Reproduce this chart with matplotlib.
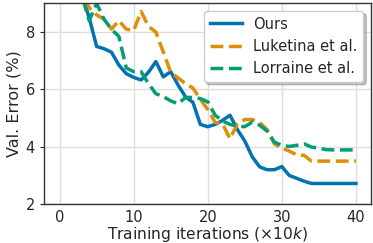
import numpy as np
import matplotlib as mpl
mpl.use('Agg')
import matplotlib.pyplot as plt

# training iterations (x10k)
iters = list(range(0, 41))

ours = [11.0, 10.5, 10.0, 9.3, 8.5, 7.5, 7.42, 7.3, 6.85, 6.55,
        6.42, 6.33, 6.6, 6.97, 6.44, 6.62, 6.15, 5.74, 5.55, 4.78,
        4.7, 4.78, 4.92, 5.1, 4.6, 4.2, 3.65, 3.3, 3.2, 3.2,
        3.31, 3.0, 2.9, 2.8, 2.72, 2.72, 2.72, 2.72, 2.72, 2.72, 2.72]

luketina = [11.5, 10.8, 10.0, 9.3, 8.85, 8.6, 8.45, 8.1, 8.4, 8.1,
            8.05, 8.72, 8.2, 8.0, 7.3, 6.6, 6.4, 6.2, 6.05, 5.65,
            5.3, 4.85, 4.8, 4.28, 4.8, 4.95, 4.95, 4.85, 4.6, 4.1,
            3.95, 3.85, 3.72, 3.7, 3.5, 3.5, 3.5, 3.5, 3.5, 3.5, 3.5]

lorraine = [11.0, 10.3, 9.6, 9.3, 8.4, 9.0, 8.45, 8.1, 7.85, 6.75,
            6.62, 6.62, 6.2, 5.85, 5.75, 5.6, 5.5, 5.72, 5.72, 5.68,
            5.57, 5.1, 4.9, 4.78, 4.72, 4.7, 4.86, 4.75, 4.55, 4.16,
            4.05, 4.01, 4.05, 4.1, 3.99, 3.95, 3.9, 3.89, 3.89, 3.89, 3.89]

plt.rcParams['font.family'] = ['DejaVu Sans']
plt.rcParams['text.color'] = '#262626'
plt.rcParams['axes.labelcolor'] = '#262626'
plt.rcParams['xtick.color'] = '#262626'
plt.rcParams['ytick.color'] = '#262626'

fig = plt.figure(figsize=(3.73, 2.43), dpi=100)
ax = fig.add_axes([0.118, 0.16, 0.876, 0.826])

ax.plot(iters, ours, color='#0173b2', lw=2.5, label='Ours')
ax.plot(iters, luketina, color='#de8f05', lw=2.5, ls='--', label='Luketina et al.')
ax.plot(iters, lorraine, color='#029e73', lw=2.5, ls='--', label='Lorraine et al.')

ax.set_xlim(-2.1, 42)
ax.set_ylim(2, 9)
ax.set_xticks([0, 10, 20, 30, 40])
ax.set_yticks([2, 4, 6, 8])
ax.grid(True, color='#dddddd', lw=1)
ax.set_axisbelow(True)
for s in ax.spines.values():
    s.set_color('#333333')
    s.set_linewidth(1.0)
ax.tick_params(axis='x', length=0, labelsize=10.5, pad=4)
ax.tick_params(axis='y', length=3, labelsize=10.5)

ax.set_xlabel(r'Training iterations ($\times 10k$)', fontsize=11.2, labelpad=0)
ax.set_ylabel('Val. Error (%)', fontsize=11.5, labelpad=3)

ax.legend(loc='upper right', fontsize=10.5, framealpha=1,
          shadow={'color': '#999999', 'alpha': 0.6},
          handlelength=2.2, borderaxespad=0.5)

plt.savefig('out.png', dpi=100)
